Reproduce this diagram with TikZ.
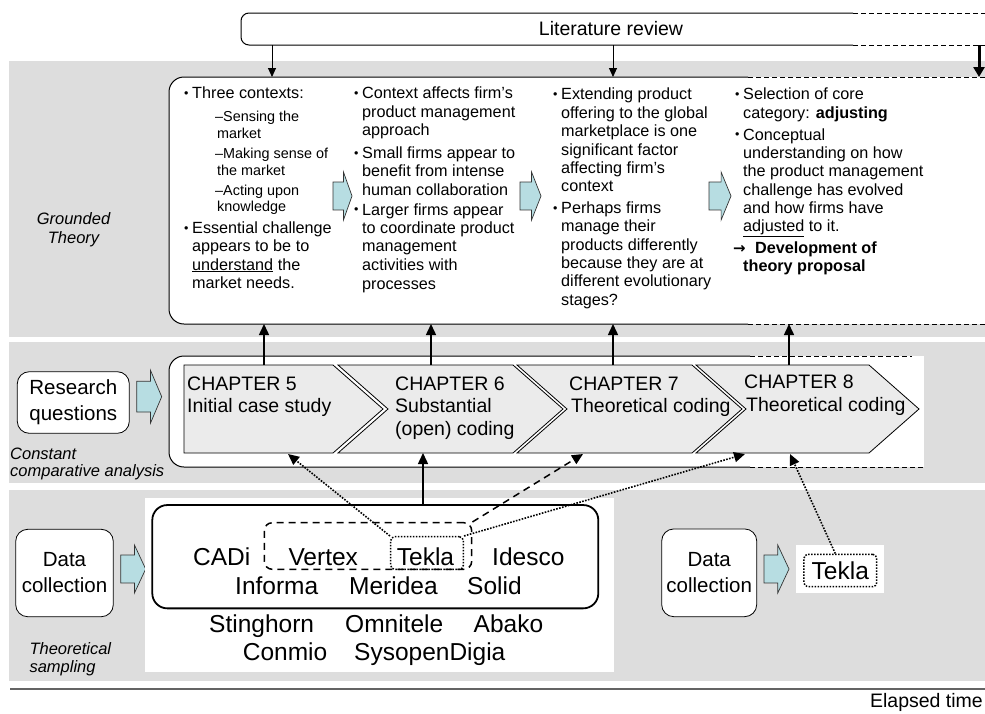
\documentclass[tikz,border=0pt]{standalone}
\usepackage{fontspec}
\setmainfont{Liberation Sans}
\newfontfamily\djv{DejaVu Sans}
\usetikzlibrary{arrows.meta}
\definecolor{band}{RGB}{221,221,221}
\definecolor{chevf}{RGB}{235,235,235}
\definecolor{cyanf}{RGB}{183,221,226}
\definecolor{axisc}{RGB}{100,100,100}
\newcommand\txl[4]{\node[tline,anchor=base west] (#1) at (#2,#3) {#4};}
\newcommand\subl[4]{\node[sline,anchor=base west] (#1) at (#2,#3) {#4};}
\newcommand\bul{\makebox[8pt][l]{\raisebox{1.2pt}{\fontsize{12.5}{12}\selectfont •}}}
\newcommand\barrow[4]{\draw[blockarrow] (#1,{#2-0.29*#4}) -- ({#1+0.55*#3},{#2-0.29*#4}) -- ({#1+0.55*#3},{#2-0.5*#4}) -- ({#1+#3},#2) -- ({#1+0.55*#3},{#2+0.5*#4}) -- ({#1+0.55*#3},{#2+0.29*#4}) -- (#1,{#2+0.29*#4}) -- cycle;}
\begin{document}
\begin{tikzpicture}[x=1pt,y=-1pt,
  tline/.style={inner sep=0pt, font=\fontsize{16.2}{19}\selectfont},
  sline/.style={inner sep=0pt, font=\fontsize{14.4}{17}\selectfont},
  chtext/.style={inner sep=0pt, anchor=base west, font=\fontsize{19.5}{22}\selectfont},
  comp/.style={inner sep=0pt, anchor=base west, font=\fontsize{24.5}{28}\selectfont},
  lbl/.style={inner sep=0pt, font=\fontsize{16.5}{19}\selectfont\itshape},
  rbox/.style={draw, fill=white, rounded corners=12pt, align=center, inner sep=0pt, line width=0.8pt, font=\fontsize{20.5}{26}\selectfont},
  blockarrow/.style={draw=black!80, fill=cyanf, line width=0.7pt, line join=miter},
  chevron/.style={draw, fill=chevf, line width=0.8pt, line join=miter},
  uparrow/.style={line width=1.5pt, -{Triangle[width=10pt,length=11pt]}},
  litarrow/.style={line width=0.9pt, -{Triangle[width=8pt,length=9pt]}},
  dotc/.style={line width=1.6pt, dash pattern=on 1.6pt off 1.4pt, -{Triangle[width=10pt,length=11pt]}},
  dashc/.style={line width=1.5pt, dash pattern=on 7pt off 5pt, -{Triangle[width=10pt,length=11pt]}},
  openedge/.style={line width=1pt, dash pattern=on 5pt off 3pt}]
\useasboundingbox (0,0) rectangle (985,713);
\fill[white] (0,0) rectangle (985,713);
% bands
\fill[band] (9,61) rectangle (985,337);
\fill[band] (9,342) rectangle (985,483);
\fill[band] (9,490) rectangle (985,681);
% literature review
\fill[white, rounded corners=8pt] (241,13) rectangle (400,45);
\fill[white] (300,13) rectangle (985,45);
\draw[line width=1pt, rounded corners=8pt] (853,13) -- (241,13) -- (241,45) -- (853,45);
\draw[openedge] (853,13) -- (985,13);
\draw[openedge] (853,45) -- (985,45);
\node[font=\fontsize{19.5}{22}\selectfont, inner sep=0pt] (lit) at (611,29) {Literature review};
% grounded theory box
\fill[white, rounded corners=15pt] (169,77) rectangle (400,324);
\fill[white] (300,77) rectangle (985,324);
\draw[line width=1pt, rounded corners=15pt] (748,77) -- (169,77) -- (169,324) -- (748,324);
\draw[openedge] (748,77) -- (985,77);
\draw[openedge] (748,324) -- (985,324);
\coordinate (litA) at (272,45); \coordinate (gtA) at (272,77);
\coordinate (litB) at (613,45); \coordinate (gtB) at (613,77);
\coordinate (litC) at (979,45); \coordinate (gtC) at (979,77);
\draw[litarrow] (litA) -- (gtA);
\draw[litarrow] (litB) -- (gtB);
\draw[line width=3pt, -{Triangle[width=11pt,length=10pt]}] (litC) -- (gtC);
% column 1
\txl{c1a}{184}{98.5}{\bul Three contexts:}
\subl{c1b}{215}{121.7}{–Sensing the}
\subl{c1c}{217}{138.3}{market}
\subl{c1d}{215}{158.3}{–Making sense of}
\subl{c1e}{217}{175}{the market}
\subl{c1f}{215}{195}{–Acting upon}
\subl{c1g}{217}{211.7}{knowledge}
\txl{c1h}{184}{233.3}{\bul Essential challenge}
\txl{c1i}{192}{251.7}{appears to be to}
\txl{c1j}{192}{270}{\underline{understand} the}
\txl{c1k}{192}{288.3}{market needs.}
% column 2
\txl{c2a}{354}{98.5}{\bul Context affects firm’s}
\txl{c2b}{362}{117}{product management}
\txl{c2c}{362}{135.5}{approach}
\txl{c2d}{354}{158.3}{\bul Small firms appear to}
\txl{c2e}{362}{176.7}{benefit from intense}
\txl{c2f}{362}{195}{human collaboration}
\txl{c2g}{354}{215}{\bul Larger firms appear}
\txl{c2h}{362}{233.3}{to coordinate product}
\txl{c2i}{362}{251.7}{management}
\txl{c2j}{362}{270.5}{activities with}
\txl{c2k}{362}{289}{processes}
% column 3
\txl{c3a}{553}{99.5}{\bul Extending product}
\txl{c3b}{561}{118}{offering to the global}
\txl{c3c}{561}{136.5}{marketplace is one}
\txl{c3d}{561}{155}{significant factor}
\txl{c3e}{561}{173.3}{affecting firm’s}
\txl{c3f}{561}{191.7}{context}
\txl{c3g}{553}{213.3}{\bul Perhaps firms}
\txl{c3h}{561}{231.7}{manage their}
\txl{c3i}{561}{250}{products differently}
\txl{c3j}{561}{268.3}{because they are at}
\txl{c3k}{561}{286.7}{different evolutionary}
\txl{c3l}{561}{305}{stages?}
% column 4
\txl{c4a}{735}{99.5}{\bul Selection of core}
\txl{c4b}{743}{118}{category: \textbf{adjusting}}
\txl{c4c}{735}{140}{\bul Conceptual}
\txl{c4d}{743}{158.3}{understanding on how}
\txl{c4e}{743}{176.7}{the product management}
\txl{c4f}{743}{195}{challenge has evolved}
\txl{c4g}{743}{213.3}{and how firms have}
\txl{c4h}{743}{231.7}{\underline{adjusted} to it.}
\txl{c4i}{733}{253.3}{\makebox[22pt][l]{\fontsize{15}{15}\selectfont\djv\bfseries →}\textbf{Development of}}
\txl{c4j}{743}{271.7}{\textbf{theory proposal}}
% block arrows between columns
\barrow{333}{196}{19}{48}
\barrow{520}{196}{21}{48}
\barrow{709}{196}{22}{48}
% band 2
\node[rbox, minimum width=112pt, minimum height=61.6pt] (rq) at (73.3,402.5) {Research\\questions};
\barrow{136.7}{396.7}{25}{53}
\fill[white, rounded corners=15pt] (169,356) rectangle (400,467);
\fill[white] (300,356) rectangle (924,467);
\draw[line width=1pt, rounded corners=15pt] (750,356) -- (169,356) -- (169,467) -- (750,467);
\draw[openedge] (750,356) -- (912,356);
\draw[openedge] (750,467) -- (923,467);
\draw[chevron] (184,365) -- (333,365) -- (383,409) -- (333,453) -- (184,453) -- cycle;
\draw[chevron] (338,365) -- (513,365) -- (563,409) -- (513,453) -- (338,453) -- (388,409) -- cycle;
\draw[chevron] (517,365) -- (692,365) -- (742,409) -- (692,453) -- (517,453) -- (567,409) -- cycle;
\draw[chevron] (696,365) -- (869,365) -- (919,409) -- (869,453) -- (696,453) -- (746,409) -- cycle;
\node[chtext] (h5a) at (187,390) {CHAPTER 5};
\node[chtext] (h5b) at (187,412.5) {Initial case study};
\node[chtext] (h6a) at (395,390) {CHAPTER 6};
\node[chtext] (h6b) at (395,412.5) {Substantial};
\node[chtext] (h6c) at (395,435) {(open) coding};
\node[chtext] (h7a) at (569,390) {CHAPTER 7};
\node[chtext] (h7b) at (571,412.5) {Theoretical coding};
\node[chtext] (h8a) at (744,388.5) {CHAPTER 8};
\node[chtext] (h8b) at (746,411) {Theoretical coding};
\coordinate (ch5t) at (264,365); \coordinate (gt5) at (264,324);
\coordinate (ch6t) at (431,365); \coordinate (gt6) at (431,324);
\coordinate (ch7t) at (613,365); \coordinate (gt7) at (613,324);
\coordinate (ch8t) at (789,365); \coordinate (gt8) at (789,324);
\draw[uparrow] (ch5t) -- (gt5);
\draw[uparrow] (ch6t) -- (gt6);
\draw[uparrow] (ch7t) -- (gt7);
\draw[uparrow] (ch8t) -- (gt8);
% band 3
\node[rbox, minimum width=97.6pt, minimum height=87.4pt] (dc1) at (64.5,573) {Data\\collection};
\barrow{120.7}{569}{25}{48}
\fill[white] (145,498.3) rectangle (614,672.3);
\node[draw, line width=1.8pt, rounded corners=15pt, minimum width=446pt, minimum height=103.3pt, inner sep=0pt] (comp) at (375.3,556.7) {};
\node[comp] (n1) at (193,565) {CADi};
\node[comp] (n2) at (288.3,565) {Vertex};
\node[comp] (n3) at (396.7,565) {Tekla};
\node[comp] (n4) at (492,565) {Idesco};
\node[comp] (n5) at (235,594.5) {Informa};
\node[comp] (n6) at (349,594.5) {Meridea};
\node[comp] (n7) at (467,594.5) {Solid};
\node[comp] (n8) at (209,632) {Stinghorn};
\node[comp] (n9) at (345,632) {Omnitele};
\node[comp] (n10) at (473.5,632) {Abako};
\node[comp] (n11) at (242.7,660) {Conmio};
\node[comp] (n12) at (354,660) {SysopenDigia};
\node[draw, line width=1.5pt, dash pattern=on 7pt off 5pt, rounded corners=8pt, minimum width=207.4pt, minimum height=46.6pt, inner sep=0pt] (vt) at (368,546) {};
\node[draw, line width=1.5pt, dash pattern=on 1.5pt off 1.5pt, rounded corners=4pt, minimum width=72.6pt, minimum height=32.6pt, inner sep=0pt] (tk1) at (427,553) {};
\node[rbox, minimum width=95pt, minimum height=87.7pt] (dc2) at (709.2,572.8) {Data\\collection};
\barrow{764}{569}{25}{48}
\fill[white] (796,545) rectangle (884,592.7);
\node[draw, line width=1.5pt, dash pattern=on 1.5pt off 1.5pt, rounded corners=4pt, minimum width=72.7pt, minimum height=32.4pt, inner sep=0pt, font=\fontsize{24.5}{28}\selectfont] (tk2) at (840.3,570.5) {Tekla};
% connectors to chapters
\coordinate (ch5b) at (288,454);
\coordinate (ch6b) at (423,453);
\coordinate (ch7b) at (583,454);
\coordinate (ch8b) at (745,454);
\coordinate (ch8c) at (790,454);
\draw[dotc] (tk1.north west) -- (ch5b);
\draw[uparrow] (comp.north -| ch6b) -- (ch6b);
\draw[dashc] (vt.north east) -- (ch7b);
\draw[dotc] (tk1.north east) -- (ch8b);
\draw[dotc] ([xshift=-5pt]tk2.north) -- (ch8c);
% side labels
\node[lbl, anchor=base] (gt1) at (73.5,224) {Grounded};
\node[lbl, anchor=base] (gt2) at (73.5,243.5) {Theory};
\node[lbl, anchor=base west] (cc1) at (10,459) {Constant};
\node[lbl, anchor=base west] (cc2) at (10,476.5) {comparative analysis};
\node[lbl, anchor=base west] (ts1) at (29.3,654) {Theoretical};
\node[lbl, anchor=base west] (ts2) at (29.3,672) {sampling};
% time axis
\coordinate (ax0) at (10,689); \coordinate (ax1) at (985,689);
\draw[line width=2pt, axisc] (ax0) -- (ax1);
\node[inner sep=0pt, anchor=base east, font=\fontsize{19.5}{22}\selectfont] (et) at (983,707) {Elapsed time};
\end{tikzpicture}
\end{document}
